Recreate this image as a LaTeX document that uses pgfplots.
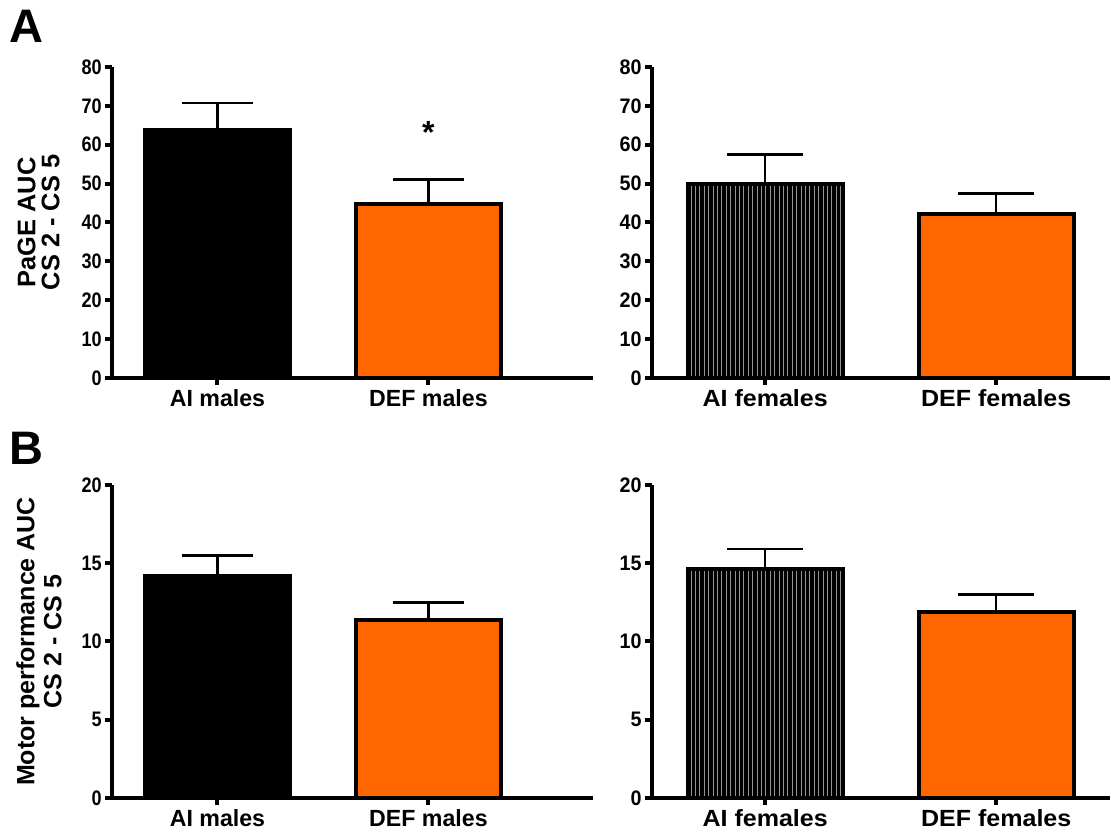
\documentclass[border=0pt]{standalone}
\usepackage{pgfplots}
\pgfplotsset{compat=1.18}
\usepackage{fontspec}
\setmainfont{Liberation Sans}
\newfontfamily\labfontL{Liberation Sans}[FakeStretch=0.99]
\newfontfamily\labfontR{Liberation Sans}[FakeStretch=1.07]
\newfontfamily\tickfont{Liberation Sans}[FakeStretch=0.86]
\newfontfamily\tickfontR{Liberation Sans}[FakeStretch=0.94]
\usetikzlibrary{patterns,patterns.meta}
\definecolor{deforange}{RGB}{255,102,0}

\pgfplotsset{
  panel/.style={
    scale only axis,
    axis x line*=bottom, axis y line*=left,
    axis line style={-, line width=2bp, black},
    tick align=outside,
    major tick length=3.5bp,
    tick style={line width=2bp, black},
    ymin=0,
    xtick={0,1},
    minor tick num=0,
    xticklabel style={font=\labfontL\bfseries\fontsize{11.7bp}{14bp}\selectfont, inner sep=2bp},
    yticklabel style={font=\tickfont\bfseries\fontsize{10.5bp}{12bp}\selectfont, inner sep=1.5bp},
    /pgf/number format/assume math mode=true,
    clip=false,
    ylabel style={font=\bfseries\fontsize{12.7bp}{12bp}\selectfont, align=center,
      at={([xshift=-26bp]axis description cs:0,0.5)}, anchor=south, inner sep=0pt},
  },
  rightpanel/.style={
    xticklabel style={font=\labfontR\bfseries\fontsize{11.7bp}{14bp}\selectfont, inner sep=2bp},
    yticklabel style={font=\tickfontR\bfseries\fontsize{10.5bp}{12bp}\selectfont, inner sep=1.5bp},
  },
  barL/.style={ybar, bar width=72.5bp, bar shift=0pt, draw=black, line width=2bp,
    error bars/y dir=plus, error bars/y explicit,
    error bars/error bar style={line width=1.2bp, black},
    error bars/error mark options={rotate=90, line width=1.2bp, black, mark size=17.75bp}},
  barR/.style={ybar, bar width=77.5bp, bar shift=0pt, draw=black, line width=2bp,
    error bars/y dir=plus, error bars/y explicit,
    error bars/error bar style={line width=1.2bp, black},
    error bars/error mark options={rotate=90, line width=1.2bp, black, mark size=19bp}},
  stripe/.style={fill=black, postaction={pattern={Lines[angle=90,distance=2.2bp,line width=0.3bp]}, pattern color=black!42}},
}

\begin{document}
\begin{tikzpicture}
\useasboundingbox (0,0) rectangle (555.5bp,418.5bp);

% Panel A left
\begin{axis}[panel, at={(56bp,229.5bp)}, anchor=south west,
  width=240.5bp, height=155.5bp, xmin=-0.5, xmax=1.78, ymax=80,
  ytick={0,10,...,80}, xticklabels={AI males, DEF males},
  ylabel={PaGE AUC\\CS 2 - CS 5}]
\addplot[barL, fill=black] coordinates {(0,63.8) +- (0,7.0)};
\addplot[barL, fill=deforange] coordinates {(1,44.8) +- (0,6.3)};
\node[font=\bfseries\fontsize{16bp}{16bp}\selectfont, anchor=base] at (axis cs:1,60.3) {*};
\end{axis}

% Panel A right
\begin{axis}[panel, rightpanel, at={(326bp,229.5bp)}, anchor=south west,
  width=229bp, height=155.5bp, xmin=-0.49, xmax=1.4927, ymax=80,
  ytick={0,10,...,80}, xticklabels={AI females, DEF females}]
\addplot[barR, stripe] coordinates {(0,49.8) +- (0,7.7)};
\addplot[barR, fill=deforange] coordinates {(1,42.1) +- (0,5.4)};
\end{axis}

% Panel B left
\begin{axis}[panel, at={(56bp,19.5bp)}, anchor=south west,
  width=240.5bp, height=156.5bp, xmin=-0.5, xmax=1.78, ymax=20,
  ytick={0,5,...,20}, xticklabels={AI males, DEF males},
  ylabel style={font=\bfseries\fontsize{12.5bp}{13.5bp}\selectfont,
    at={([xshift=-25bp]axis description cs:0,0.5)}},
  ylabel={Motor performance AUC\\CS 2 - CS 5}]
\addplot[barL, fill=black] coordinates {(0,14.2) +- (0,1.3)};
\addplot[barL, fill=deforange] coordinates {(1,11.4) +- (0,1.1)};
\end{axis}

% Panel B right
\begin{axis}[panel, rightpanel, at={(326bp,19.5bp)}, anchor=south west,
  width=229bp, height=156.5bp, xmin=-0.49, xmax=1.4927, ymax=20,
  ytick={0,5,...,20}, xticklabels={AI females, DEF females}]
\addplot[barR, stripe] coordinates {(0,14.65) +- (0,1.25)};
\addplot[barR, fill=deforange] coordinates {(1,11.9) +- (0,1.1)};
\end{axis}

\node[font=\bfseries\fontsize{23.5bp}{24bp}\selectfont, anchor=base west, inner sep=0pt] at (4.5bp,397bp) {A};
\node[font=\bfseries\fontsize{23.5bp}{24bp}\selectfont, anchor=base west, inner sep=0pt] at (4.5bp,186bp) {B};
\end{tikzpicture}
\end{document}
